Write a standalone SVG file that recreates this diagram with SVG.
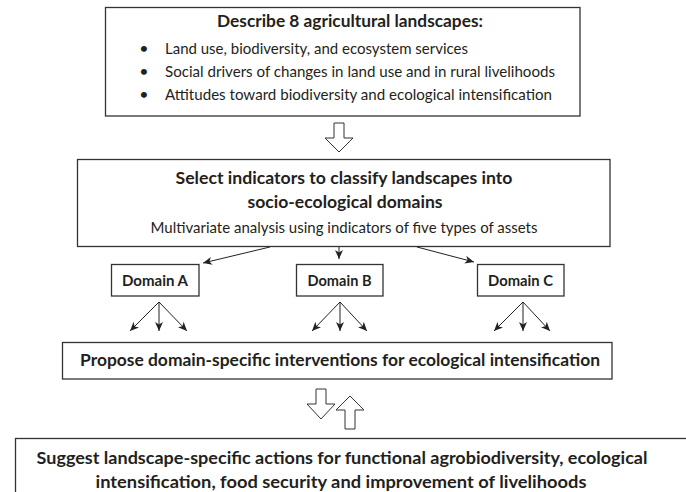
<svg xmlns="http://www.w3.org/2000/svg" width="686" height="492" viewBox="0 0 686 492">
<defs>
<style>
.box{fill:#fff;stroke:#333;stroke-width:1.3}
.blk{fill:#fff;stroke:#333;stroke-width:1}
.t{font-family:Lato,"Open Sans","Liberation Sans",sans-serif;fill:#231f20}
.b{font-weight:bold;font-size:17px}
.n{font-size:16px}
.c{text-anchor:middle}
.con{stroke:#222;stroke-width:1;fill:none;marker-end:url(#ah)}
</style>
<marker id="ah" markerUnits="userSpaceOnUse" markerWidth="10" markerHeight="8" refX="9" refY="4" orient="auto">
<path d="M0,0 L9,4 L0,8 L2.5,4 z" fill="#222"/>
</marker>
</defs>
<rect width="686" height="492" fill="#fff"/>

<g id="describe">
<rect class="box" x="105.5" y="7.5" width="474.5" height="108.5"/>
<text class="t b c" x="350" y="27" textLength="266" lengthAdjust="spacingAndGlyphs">Describe 8 agricultural landscapes:</text>
<text class="t n" x="144" y="54" text-anchor="middle">•</text>
<text class="t n" x="165" y="54" textLength="303" lengthAdjust="spacingAndGlyphs">Land use, biodiversity, and ecosystem services</text>
<text class="t n" x="144" y="77" text-anchor="middle">•</text>
<text class="t n" x="165" y="77" textLength="390" lengthAdjust="spacingAndGlyphs">Social drivers of changes in land use and in rural livelihoods</text>
<text class="t n" x="144" y="100" text-anchor="middle">•</text>
<text class="t n" x="165" y="100" textLength="387" lengthAdjust="spacingAndGlyphs">Attitudes toward biodiversity and ecological intensification</text>
</g>

<g id="select">
<rect class="box" x="77.5" y="159.5" width="532.5" height="87"/>
<text class="t b c" x="344" y="184" textLength="337" lengthAdjust="spacingAndGlyphs">Select indicators to classify landscapes into</text>
<text class="t b c" x="345" y="208" textLength="195" lengthAdjust="spacingAndGlyphs">socio-ecological domains</text>
<text class="t n c" x="344" y="233" textLength="387" lengthAdjust="spacingAndGlyphs">Multivariate analysis using indicators of five types of assets</text>
</g>

<g id="domainA">
<rect class="box" x="111.5" y="264.5" width="87.5" height="31.5"/>
<text class="t c" x="155" y="286" font-size="15" font-weight="bold" textLength="66" lengthAdjust="spacingAndGlyphs">Domain A</text>
</g>
<g id="domainB">
<rect class="box" x="296.5" y="264.5" width="86.5" height="31.5"/>
<text class="t c" x="339.5" y="286" font-size="15" font-weight="bold" textLength="64" lengthAdjust="spacingAndGlyphs">Domain B</text>
</g>
<g id="domainC">
<rect class="box" x="477.5" y="264.5" width="86.5" height="31.5"/>
<text class="t c" x="520.5" y="286" font-size="15" font-weight="bold" textLength="65" lengthAdjust="spacingAndGlyphs">Domain C</text>
</g>

<g id="propose">
<rect class="box" x="62.5" y="342.5" width="549.5" height="36.5"/>
<text class="t b c" x="340" y="366" textLength="520" lengthAdjust="spacingAndGlyphs">Propose domain-specific interventions for ecological intensification</text>
</g>

<g id="suggest">
<rect class="box" x="15.5" y="438.5" width="700" height="80"/>
<text class="t b c" x="342" y="464" textLength="611" lengthAdjust="spacingAndGlyphs">Suggest landscape-specific actions for functional agrobiodiversity, ecological</text>
<text class="t b c" x="341" y="488" textLength="491" lengthAdjust="spacingAndGlyphs">intensification, food security and improvement of livelihoods</text>
</g>

<g id="connectors">
<polygon class="blk" points="334,123 344,123 344,138 353,138 339,152 325,138 334,138"/>
<polygon class="blk" points="316,389 326,389 326,404 335,404 321,419 307,404 316,404"/>
<polygon class="blk" points="350,396 364,410 355,410 355,429 345,429 345,410 336,410"/>
<line class="con" x1="270" y1="247" x2="203" y2="263"/>
<line class="con" x1="339" y1="247" x2="339" y2="259"/>
<line class="con" x1="417" y1="247" x2="474" y2="262"/>
<line class="con" x1="159" y1="302" x2="130" y2="331"/>
<line class="con" x1="159" y1="302" x2="159" y2="331"/>
<line class="con" x1="159" y1="302" x2="187" y2="331"/>
<line class="con" x1="340" y1="302" x2="312" y2="331"/>
<line class="con" x1="340" y1="302" x2="340" y2="331"/>
<line class="con" x1="340" y1="302" x2="367" y2="331"/>
<line class="con" x1="523" y1="302" x2="494" y2="331"/>
<line class="con" x1="523" y1="302" x2="523" y2="331"/>
<line class="con" x1="523" y1="302" x2="550" y2="331"/>
</g>
</svg>
